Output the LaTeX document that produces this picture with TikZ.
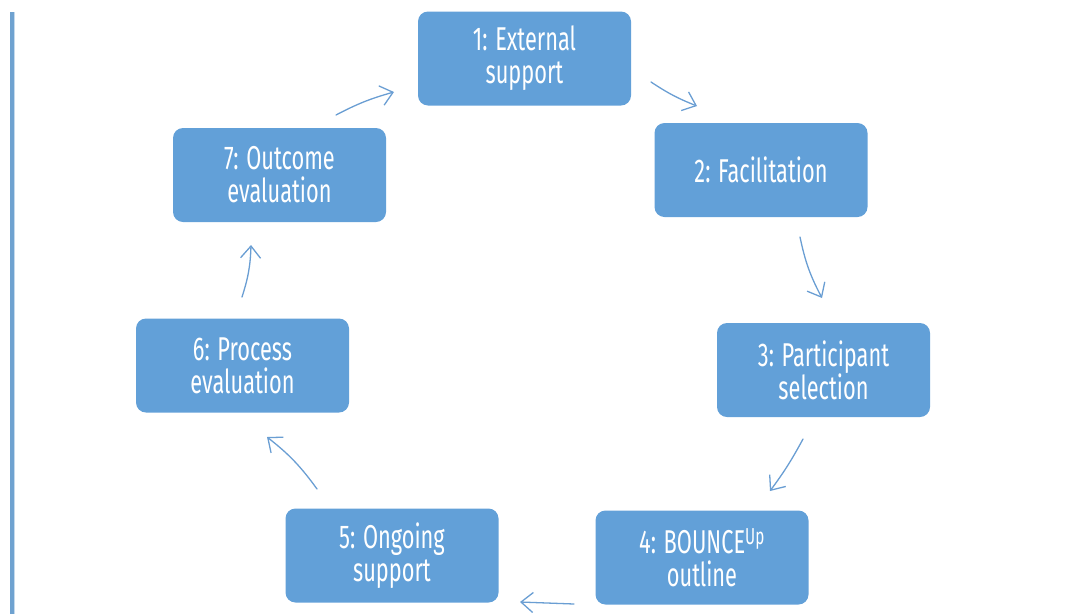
\documentclass[tikz,border=0pt]{standalone}
\usepackage{fontspec}
\setmainfont[FakeStretch=0.66]{Fira Sans}
\usetikzlibrary{arrows.meta}
\definecolor{boxblue}{HTML}{62A0D8}
\definecolor{arrowblue}{HTML}{6A9ED3}
\definecolor{barblue}{HTML}{6FA2D0}
\begin{document}
\begin{tikzpicture}[x=1pt,y=-1pt,
  stepbox/.style={fill=boxblue, rounded corners=10pt, minimum width=213pt, minimum height=94pt,
    text=white, align=center, font=\fontsize{33}{33}\selectfont, inner sep=0pt},
  flow/.style={draw=arrowblue, line width=1.3pt, line cap=round,
    -{Straight Barb[length=12pt,width=20pt,line width=1.3pt]}}]
\useasboundingbox (0,0) rectangle (1065,614);
\fill[barblue] (9.5,12) rectangle (14,614);
\fill[barblue!40] (14,12) rectangle (15.2,614);

\node[stepbox] (n1) at (524.5,58.5) {1: External\\support};
\node[stepbox] (n2) at (761,170) {2: Facilitation};
\node[stepbox] (n3) at (823.5,370) {3: Participant\\selection};
\node[stepbox] (n4) at (702,557.5) {4: BOUNCE\textsuperscript{Up}\\outline};
\node[stepbox] (n5) at (392,555.5) {5: Ongoing\\support};
\node[stepbox] (n6) at (242.5,365.5) {6: Process\\evaluation};
\node[stepbox] (n7) at (279.5,175) {7: Outcome\\evaluation};

\coordinate (a1s) at (651,82);  \coordinate (a1e) at (697,106);
\coordinate (a2s) at (800,237); \coordinate (a2e) at (822,298);
\coordinate (a3s) at (803,439); \coordinate (a3e) at (770,491);
\coordinate (a4s) at (574,604); \coordinate (a4e) at (520,602);
\coordinate (a5s) at (317,489); \coordinate (a5e) at (267,437);
\coordinate (a6s) at (242,297); \coordinate (a6e) at (251,245);
\coordinate (a7s) at (336,115); \coordinate (a7e) at (394,92);

\draw[flow] (a1s) to[bend right=6] (a1e);
\draw[flow] (a2s) to[bend right=8] (a2e);
\draw[flow] (a3s) to[bend left=4] (a3e);
\draw[flow] (a4s) to (a4e);
\draw[flow] (a5s) to[bend right=8] (a5e);
\draw[flow] (a6s) to[bend right=8] (a6e);
\draw[flow] (a7s) to[bend left=6] (a7e);
\end{tikzpicture}
\end{document}
